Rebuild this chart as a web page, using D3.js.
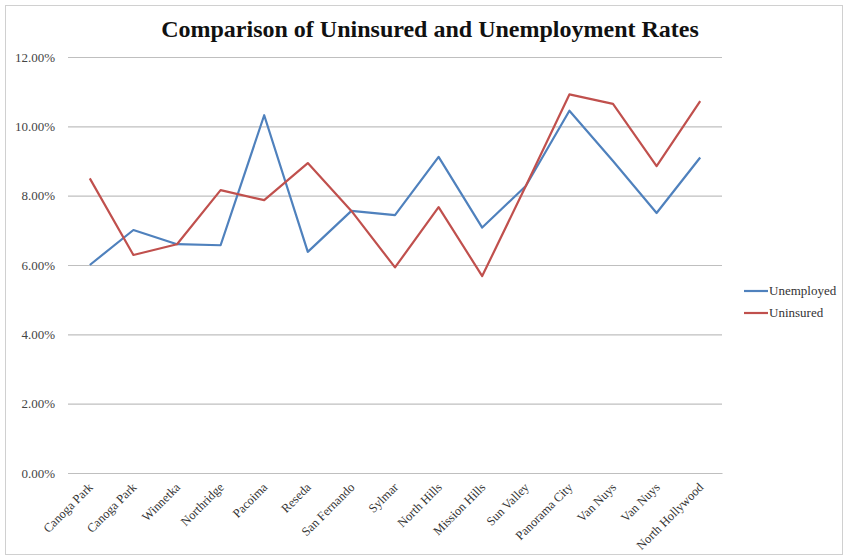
<!DOCTYPE html>
<html><head><meta charset="utf-8">
<script src="https://cdn.jsdelivr.net/npm/d3@7"></script>
<style>body{margin:0;background:#fff;}svg{display:block;font-family:"Liberation Serif","Times New Roman",serif;}</style>
</head><body>
<svg id="c" width="848" height="558"></svg>
<script>
const categories = ["Canoga Park","Canoga Park","Winnetka","Northridge","Pacoima","Reseda","San Fernando","Sylmar","North Hills","Mission Hills","Sun Valley","Panorama City","Van Nuys","Van Nuys","North Hollywood"];
const unemployed = [6.0,7.01,6.6,6.57,10.32,6.38,7.56,7.44,9.12,7.08,8.28,10.45,9.0,7.5,9.1];
const uninsured = [8.5,6.29,6.6,8.16,7.87,8.94,7.56,5.93,7.67,5.68,8.28,10.92,10.65,8.85,10.73];
const yTicks = [0,2,4,6,8,10,12];
const seriesNames = ["Unemployed","Uninsured"];
const colors = ["#4F81BD","#C0504D"];

const svg = d3.select("#c");
svg.append("rect").attr("x",5.5).attr("y",5.5).attr("width",837).attr("height",549)
  .attr("fill","#fff").attr("stroke","#d0d0d0");

const x = d3.scaleBand().domain(d3.range(categories.length)).range([68,722]);
const y = d3.scaleLinear().domain([0,12]).range([473,57]);

svg.append("text").attr("x",430).attr("y",37).attr("text-anchor","middle")
  .attr("font-size",24).attr("font-weight","bold").attr("fill","#111")
  .text("Comparison of Uninsured and Unemployment Rates");

const yAxis = svg.append("g").attr("transform","translate(68,0)")
  .call(d3.axisLeft(y).tickValues(yTicks).tickSize(-654).tickFormat(d=>d3.format(".2f")(d)+"%"));
yAxis.select(".domain").remove();
yAxis.selectAll(".tick line").attr("stroke","#bfbfbf").attr("stroke-width",1.2);
yAxis.selectAll(".tick text").attr("x",-13).attr("font-size",13).attr("fill","#444")
  .attr("font-family","Liberation Serif, serif");

const xAxis = svg.append("g").attr("transform","translate(0,473)")
  .call(d3.axisBottom(x).tickSize(0).tickFormat(i=>categories[i]));
xAxis.select(".domain").attr("stroke","#bfbfbf").attr("stroke-width",1.2);
xAxis.selectAll(".tick text").attr("font-size",12.5).attr("fill","#333")
  .attr("font-family","Liberation Serif, serif")
  .attr("text-anchor","end").attr("dy",0).attr("y",0)
  .attr("transform","translate(4,15) rotate(-45)");

const line = d3.line().x((d,i)=>x(i)+x.bandwidth()/2).y(d=>y(d));
[unemployed,uninsured].forEach((s,k)=>{
  svg.append("path").datum(s).attr("d",line).attr("fill","none")
    .attr("stroke",colors[k]).attr("stroke-width",2.2).attr("stroke-linejoin","round");
});

const leg = svg.append("g");
seriesNames.forEach((n,k)=>{
  const yy = 291 + k*22;
  leg.append("line").attr("x1",744).attr("x2",768).attr("y1",yy).attr("y2",yy)
    .attr("stroke",colors[k]).attr("stroke-width",2.2);
  leg.append("text").attr("x",769).attr("y",yy+4).attr("font-size",13).attr("fill","#333").text(n);
});
</script>
</body></html>
